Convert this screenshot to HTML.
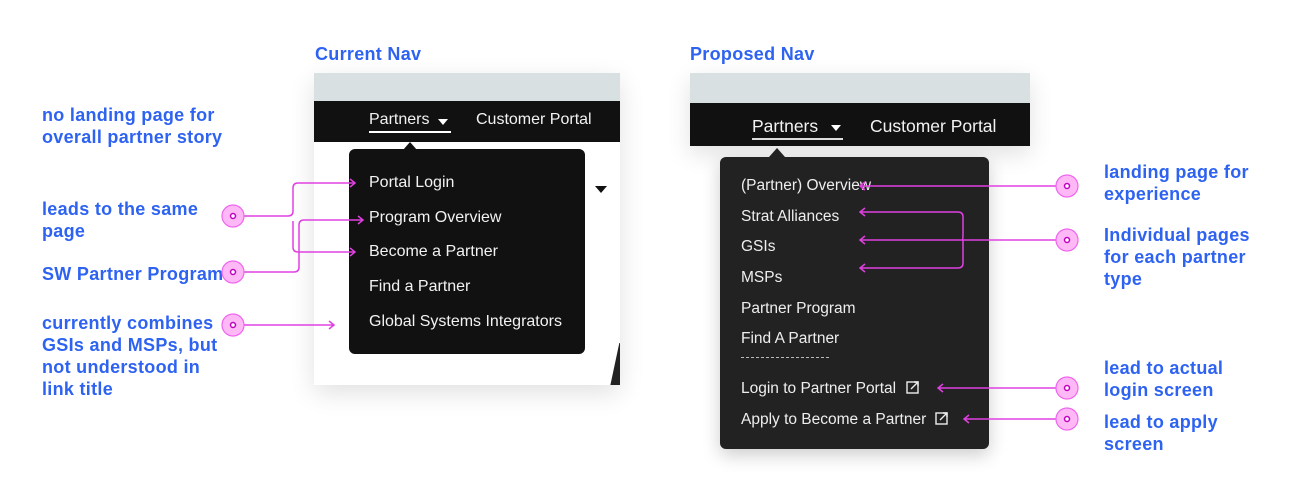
<!DOCTYPE html>
<html><head><style>
*{margin:0;padding:0;box-sizing:border-box}
body{width:1302px;height:504px;background:#fff;position:relative;overflow:hidden;font-family:"Liberation Sans",sans-serif}
.a{position:absolute}
.lbl{position:absolute;color:#2e63f2;font-weight:bold;font-size:18px;letter-spacing:0.3px;line-height:22px;white-space:nowrap}
.it{position:absolute;color:#f2f2f2;font-size:16px;white-space:nowrap}
.it2{position:absolute;color:#eee;font-size:15.5px;white-space:nowrap}
</style></head><body>
<div class="lbl" style="left:315px;top:43px">Current Nav</div>
<div class="lbl" style="left:690px;top:43px">Proposed Nav</div>

<div class="lbl" style="left:42px;top:104px">no landing page for<br>overall partner story</div>
<div class="lbl" style="left:42px;top:198px">leads to the same<br>page</div>
<div class="lbl" style="left:42px;top:263px">SW Partner Program</div>
<div class="lbl" style="left:42px;top:312px">currently combines<br>GSIs and MSPs, but<br>not understood in<br>link title</div>

<div class="lbl" style="left:1104px;top:161px">landing page for<br>experience</div>
<div class="lbl" style="left:1104px;top:224px">Individual pages<br>for each partner<br>type</div>
<div class="lbl" style="left:1104px;top:357px">lead to actual<br>login screen</div>
<div class="lbl" style="left:1104px;top:411px">lead to apply<br>screen</div>

<!-- left panel -->
<div class="a" style="left:314px;top:73px;width:306px;height:312px;background:#fff;box-shadow:0 8px 24px rgba(0,0,0,.12);overflow:hidden">
  <div class="a" style="left:0;top:0;width:306px;height:28px;background:#d9e0e2"></div>
  <div class="a" style="left:0;top:28px;width:306px;height:41px;background:#111"></div>
  <div class="a" style="left:55px;top:38px;color:#f2f2f2;font-size:16px">Partners</div>
  <div class="a" style="left:124px;top:46px;border-left:5px solid transparent;border-right:5px solid transparent;border-top:6px solid #fff"></div>
  <div class="a" style="left:55px;top:58px;width:82px;height:2px;background:#fff"></div>
  <div class="a" style="left:162px;top:38px;color:#f2f2f2;font-size:16px">Customer Portal</div>
  <div class="a" style="left:281px;top:113px;border-left:6px solid transparent;border-right:6px solid transparent;border-top:7px solid #111"></div>
  <div class="a" style="left:300px;top:270px;width:14px;height:50px;background:#222;transform:skewX(-12deg)"></div>
</div>
<div class="a" style="left:349px;top:149px;width:236px;height:205px;background:#111;border-radius:6px"></div>
<div class="a" style="left:403px;top:142px;border-left:7px solid transparent;border-right:7px solid transparent;border-bottom:8px solid #111"></div>
<div class="it" style="left:369px;top:174px">Portal Login</div>
<div class="it" style="left:369px;top:209px">Program Overview</div>
<div class="it" style="left:369px;top:243px">Become a Partner</div>
<div class="it" style="left:369px;top:278px">Find a Partner</div>
<div class="it" style="left:369px;top:313px">Global Systems Integrators</div>

<!-- right panel -->
<div class="a" style="left:690px;top:73px;width:340px;height:73px;box-shadow:0 8px 24px rgba(0,0,0,.12);overflow:hidden">
  <div class="a" style="left:0;top:0;width:340px;height:30px;background:#d9e0e2"></div>
  <div class="a" style="left:0;top:30px;width:340px;height:43px;background:#111"></div>
  <div class="a" style="left:62px;top:43px;color:#f2f2f2;font-size:17.5px">Partners</div>
  <div class="a" style="left:141px;top:52px;border-left:5px solid transparent;border-right:5px solid transparent;border-top:6px solid #fff"></div>
  <div class="a" style="left:62px;top:65px;width:91px;height:2px;background:#ddd"></div>
  <div class="a" style="left:180px;top:43px;color:#f2f2f2;font-size:17.5px">Customer Portal</div>
</div>
<div class="a" style="left:720px;top:157px;width:269px;height:292px;background:#222;border-radius:6px;box-shadow:0 6px 18px rgba(0,0,0,.2)"></div>
<div class="a" style="left:769px;top:148px;border-left:8px solid transparent;border-right:8px solid transparent;border-bottom:9px solid #222"></div>
<div class="it2" style="left:741px;top:177px">(Partner) Overview</div>
<div class="it2" style="left:741px;top:208px">Strat Alliances</div>
<div class="it2" style="left:741px;top:238px">GSIs</div>
<div class="it2" style="left:741px;top:269px">MSPs</div>
<div class="it2" style="left:741px;top:300px">Partner Program</div>
<div class="it2" style="left:741px;top:330px">Find A Partner</div>
<div class="a" style="left:741px;top:357px;width:88px;border-top:1px dashed #bbb"></div>
<div class="it2" style="left:741px;top:380px">Login to Partner Portal</div>
<div class="it2" style="left:741px;top:411px">Apply to Become a Partner</div>
<svg class="a" style="left:0;top:0" width="1302" height="504">
<g fill="none" stroke="#eee" stroke-width="1.4">
<rect x="907" y="382" width="11" height="11"/><path d="M911 389L918 382M914 382H918V386"/>
<rect x="936" y="413" width="11" height="11"/><path d="M940 420L947 413M943 413H947V417"/>
</g>
<g fill="none" stroke="#e040e0" stroke-width="1.5">
<path d="M244 216H288Q293 216 293 211V188Q293 183 298 183H354M293 221V247Q293 252 298 252H354"/>
<path d="M350 179L355 183L350 187M350 248L355 252L350 256"/>
<path d="M244 272H294Q299 272 299 267V225Q299 220 304 220H362M358 216L363 220L358 224"/>
<path d="M244 325H333M329 321L334 325L329 329"/>
<path d="M1056 186H860M865 182L860 186L865 190"/>
<path d="M1056 240H860M865 236L860 240L865 244"/>
<path d="M962 240Q963 240 963 235V217Q963 212 958 212H860M865 208L860 212L865 216"/>
<path d="M963 240V263Q963 268 958 268H860M865 264L860 268L865 272"/>
<path d="M1056 388H938M943 384L938 388L943 392"/>
<path d="M1056 419H964M969 415L964 419L969 423"/>
</g>
<g fill="#ffb8f6" stroke="#ee66ee" stroke-width="1.2">
<circle cx="233" cy="216" r="11"/><circle cx="233" cy="272" r="11"/><circle cx="233" cy="325" r="11"/>
<circle cx="1067" cy="186" r="11"/><circle cx="1067" cy="240" r="11"/><circle cx="1067" cy="388" r="11"/><circle cx="1067" cy="419" r="11"/>
</g>
<g fill="#fff" stroke="#c000c0" stroke-width="1.5">
<circle cx="233" cy="216" r="2.5"/><circle cx="233" cy="272" r="2.5"/><circle cx="233" cy="325" r="2.5"/>
<circle cx="1067" cy="186" r="2.5"/><circle cx="1067" cy="240" r="2.5"/><circle cx="1067" cy="388" r="2.5"/><circle cx="1067" cy="419" r="2.5"/>
</g>
</svg>
</body></html>
